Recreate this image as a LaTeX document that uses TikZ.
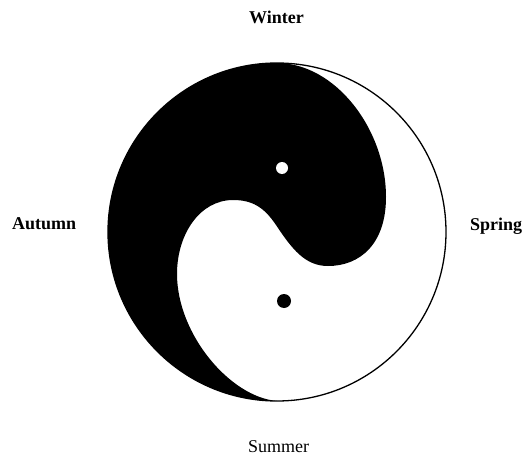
\documentclass[tikz,border=0pt]{standalone}
\usepackage{fontspec}
\setmainfont{Liberation Serif}
\begin{document}
\begin{tikzpicture}[x=1pt,y=1pt,
  season/.style={inner sep=0pt,font=\fontsize{18}{20}\selectfont\bfseries},
  seasonreg/.style={inner sep=0pt,font=\fontsize{18}{20}\selectfont}]
\useasboundingbox (0,0) rectangle (525,459);
\coordinate (C) at (277,227);
% black part
\fill[black] (277,396)
  .. controls (335,396) and (386,330) .. (386,262)
  .. controls (386,215) and (360,193) .. (328,193)
  .. controls (305,193) and (292,210) .. (276,234)
  .. controls (264,252) and (252,259) .. (233,259)
  .. controls (200,259) and (177,225) .. (177,185)
  .. controls (177,125) and (230,62) .. (277,58)
  arc[start angle=270,end angle=90,radius=169] -- cycle;
% outline
\draw[line width=1.3pt] (C) circle[radius=169];
% dots
\fill[white] (282,291) circle[radius=6];
\fill[black] (284,158) circle[radius=7];
% labels
\node[season,anchor=base] (winter) at (276.5,435.5) {Winter};
\node[season,anchor=base west] (autumn) at (12,229.5) {Autumn};
\node[season,anchor=base west] (spring) at (470,229) {Spring};
\node[seasonreg,anchor=base west] (summer) at (248,7) {Summer};
\end{tikzpicture}
\end{document}
